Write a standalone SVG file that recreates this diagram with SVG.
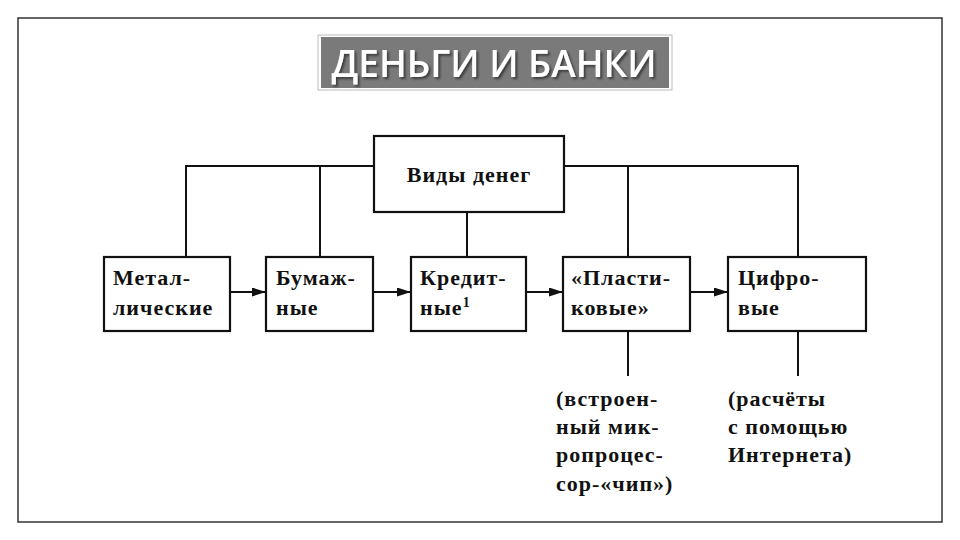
<svg xmlns="http://www.w3.org/2000/svg" width="960" height="540" viewBox="0 0 960 540">
<defs>
<style>
.b{fill:#fff;stroke:#111;stroke-width:2.2}
.t{font-family:"Liberation Serif",serif;font-weight:bold;font-size:22px;letter-spacing:1px;fill:#111}
.l{stroke:#111;stroke-width:2;fill:none}
</style>
<filter id="s" x="-5%" y="-20%" width="110%" height="140%"><feDropShadow dx="2" dy="2" stdDeviation="1" flood-color="#222" flood-opacity="0.7"/></filter>
<marker id="a" viewBox="0 0 10 10" refX="10" refY="5" markerWidth="14" markerHeight="9" orient="auto" markerUnits="userSpaceOnUse" preserveAspectRatio="none"><path d="M0,0L10,5L0,10z" fill="#111"/></marker>
</defs>
<rect width="960" height="540" fill="#fff"/>
<rect x="18" y="18" width="924" height="504" fill="none" stroke="#333" stroke-width="1.5"/>
<g id="title">
<rect x="318" y="35" width="354" height="55" fill="#fff" stroke="#bbb"/>
<rect x="321" y="37" width="348" height="51" fill="#7a7a7a"/>
<text x="494" y="77" text-anchor="middle" font-family="'Open Sans',sans-serif" font-weight="600" font-size="37" fill="#fff" filter="url(#s)">ДЕНЬГИ И БАНКИ</text>
</g>
<g id="connectors">
<path class="l" d="M186,257V166H374M564,166H798V257M320,166V257M628,166V257M467,212V257M628,331V376M798,331V376"/>
<path class="l" d="M230,292H266" marker-end="url(#a)"/>
<path class="l" d="M373,292H411" marker-end="url(#a)"/>
<path class="l" d="M526,292H563" marker-end="url(#a)"/>
<path class="l" d="M690,292H728" marker-end="url(#a)"/>
</g>
<g id="root"><rect class="b" x="374" y="136" width="190" height="76"/><text class="t" x="469" y="182" text-anchor="middle">Виды денег</text></g>
<g id="n1"><rect class="b" x="104" y="257" width="126" height="74"/><text class="t" x="113" y="285">Метал-</text><text class="t" x="113" y="315">лические</text></g>
<g id="n2"><rect class="b" x="266" y="257" width="107" height="74"/><text class="t" x="276" y="285">Бумаж-</text><text class="t" x="276" y="315">ные</text></g>
<g id="n3"><rect class="b" x="411" y="257" width="115" height="74"/><text class="t" x="420" y="285">Кредит-</text><text class="t" x="420" y="315">ные<tspan font-size="14" dy="-8">1</tspan></text></g>
<g id="n4"><rect class="b" x="563" y="257" width="127" height="74"/><text class="t" x="571" y="285">«Пласти-</text><text class="t" x="571" y="315">ковые»</text></g>
<g id="n5"><rect class="b" x="728" y="257" width="138" height="74"/><text class="t" x="738" y="285">Цифро-</text><text class="t" x="738" y="315">вые</text></g>
<g id="note1"><text class="t" x="556" y="406">(встроен-</text><text class="t" x="556" y="434">ный мик-</text><text class="t" x="556" y="462">ропроцес-</text><text class="t" x="556" y="491">сор-«чип»)</text></g>
<g id="note2"><text class="t" x="728" y="406">(расчёты</text><text class="t" x="728" y="434">с помощью</text><text class="t" x="728" y="462">Интернета)</text></g>
</svg>
